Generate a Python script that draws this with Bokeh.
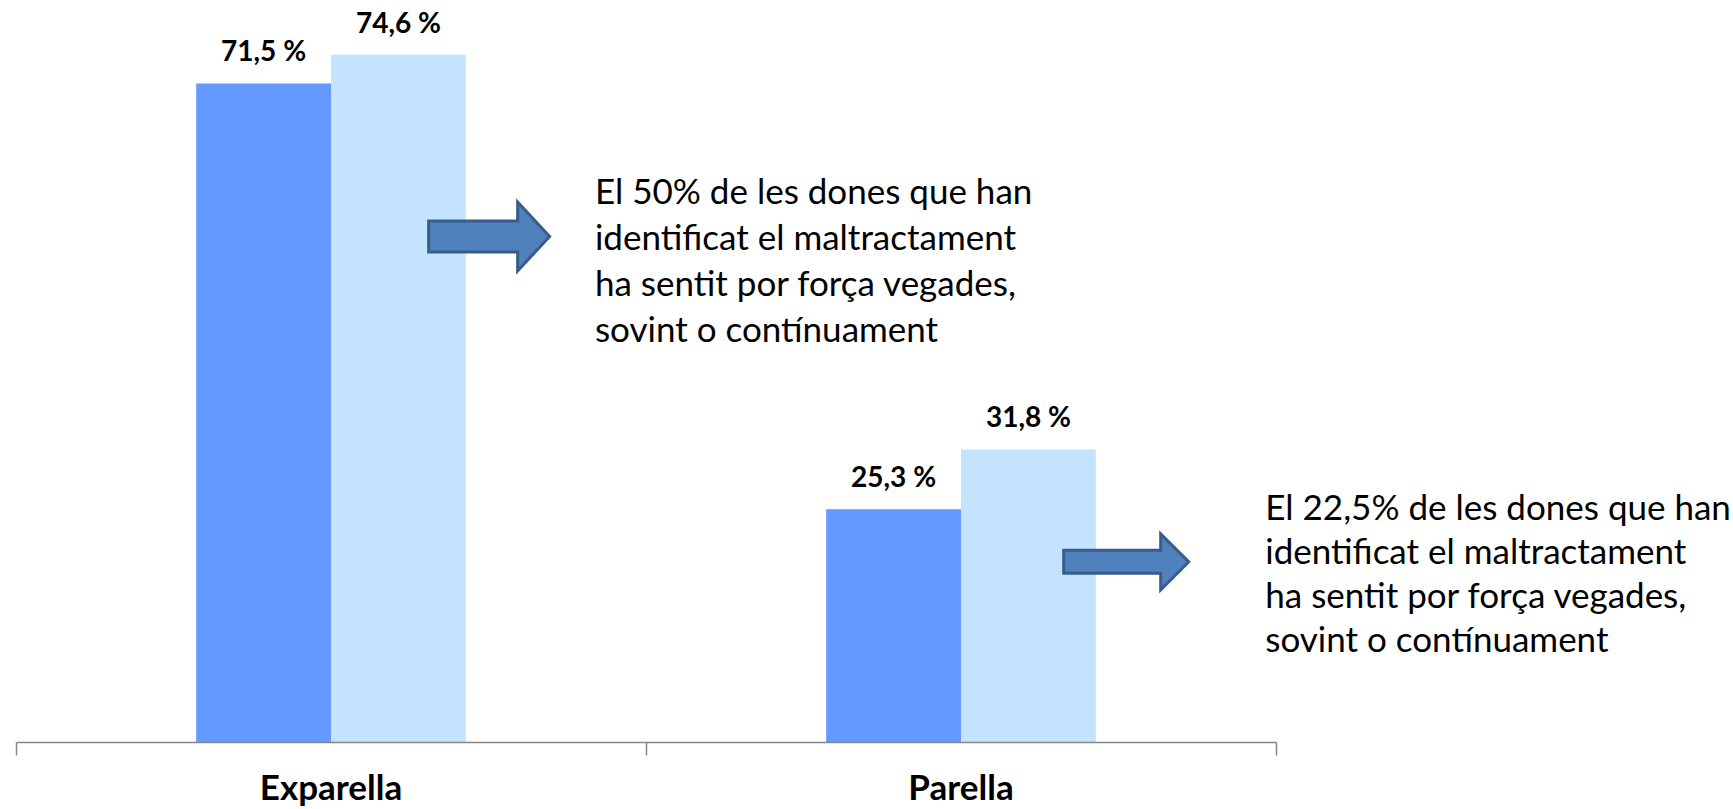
from bokeh.plotting import figure
from bokeh.models import Range1d, LinearAxis, FixedTicker, ColumnDataSource
from bokeh.core.properties import value
from bokeh.embed import file_html
from bokeh.resources import INLINE

# ---- data ----
categories = ["Exparella", "Parella"]
series_a = [71.5, 25.3]   # dark blue bars
series_b = [74.6, 31.8]   # light blue bars
labels_a = ["71,5 %", "25,3 %"]
labels_b = ["74,6 %", "31,8 %"]
note_1 = ["El 50% de les dones que han", "identificat el maltractament",
          "ha sentit por força vegades,", "sovint o contínuament"]
note_2 = ["El 22,5% de les dones que han", "identificat el maltractament",
          "ha sentit por força vegades,", "sovint o contínuament"]

# ---- layout ----
W, H = 1733, 809
FRAME_H = 743
PX_X = 630.0            # pixels per category
PX_Y = 9.23             # pixels per percent
Y_END = FRAME_H / PX_Y
X_START = -15.5 / PX_X
X_END = X_START + W / PX_X

FONT = "Lato"
BAR_W = 0.214
C1, C2 = "#6699FF", "#C4E3FF"

p = figure(width=W, height=H, output_backend="svg", toolbar_location=None,
           x_range=Range1d(X_START, X_END), y_range=Range1d(0, Y_END),
           x_axis_type=None, y_axis_type=None,
           min_border_left=0, min_border_right=0, min_border_top=0,
           min_border_bottom=H - FRAME_H)
p.outline_line_color = None
p.grid.visible = False
p.background_fill_color = "white"
p.border_fill_color = "white"

n = len(categories)
xa = [i + 0.5 - BAR_W / 2 for i in range(n)]
xb = [i + 0.5 + BAR_W / 2 for i in range(n)]

p.vbar(x=xa, top=series_a, width=BAR_W, bottom=0, fill_color=C1, line_color=None)
p.vbar(x=xb, top=series_b, width=BAR_W, bottom=0, fill_color=C2, line_color=None)

lab = ColumnDataSource(dict(x=xa + xb, y=series_a + series_b, t=labels_a + labels_b))
p.text(x="x", y="y", text="t", source=lab, text_align="center", text_baseline="middle",
       y_offset=-33, text_font=value(FONT), text_font_style="bold",
       text_font_size="28px", text_color="black")

# axis with category boundaries as minor ticks
ax = LinearAxis(ticker=FixedTicker(ticks=[i + 0.5 for i in range(n)],
                                   minor_ticks=list(range(n + 1))))
ax.bounds = (0, n)
ax.major_label_overrides = {i + 0.5: c for i, c in enumerate(categories)}
ax.axis_line_color = "#868686"
ax.axis_line_width = 1.5
ax.major_tick_line_color = None
ax.major_tick_out = 0
ax.major_tick_in = 0
ax.minor_tick_line_color = "#868686"
ax.minor_tick_line_width = 1.5
ax.minor_tick_out = 13
ax.minor_tick_in = 0
ax.major_label_standoff = 9
ax.major_label_text_font = FONT
ax.major_label_text_font_style = "bold"
ax.major_label_text_font_size = "35px"
ax.major_label_text_line_height = 0.8
ax.major_label_text_color = "black"
p.add_layout(ax, "below")


def arrow(x0, yc, body_len, head_len, body_half, head_half):
    x1 = x0 + body_len / PX_X
    x2 = x1 + head_len / PX_X
    bh = body_half / PX_Y
    hh = head_half / PX_Y
    xs = [x0, x1, x1, x2, x1, x1, x0]
    ys = [yc - bh, yc - bh, yc - hh, yc, yc + hh, yc + bh, yc + bh]
    return xs, ys


a1 = arrow(0.655, 54.9, 89, 32, 15.5, 34.5)
a2 = arrow(1.663, 19.6, 97, 28, 11.5, 28)
p.patches(xs=[a1[0], a2[0]], ys=[a1[1], a2[1]], fill_color="#4F81BD",
          line_color="#385D8A", line_width=3, line_join="miter")

for x0, y0, step, lines in [(0.919, 59.9, 46, note_1), (1.983, 25.7, 44, note_2)]:
    src = ColumnDataSource(dict(x=[x0] * len(lines), y=[y0] * len(lines), t=lines,
                                off=[i * step for i in range(len(lines))]))
    p.text(x="x", y="y", text="t", y_offset="off", source=src, text_align="left",
           text_baseline="middle", text_font=value(FONT), text_font_size="35px",
           text_color="black")

open("out.html", "w").write(file_html(p, INLINE))
